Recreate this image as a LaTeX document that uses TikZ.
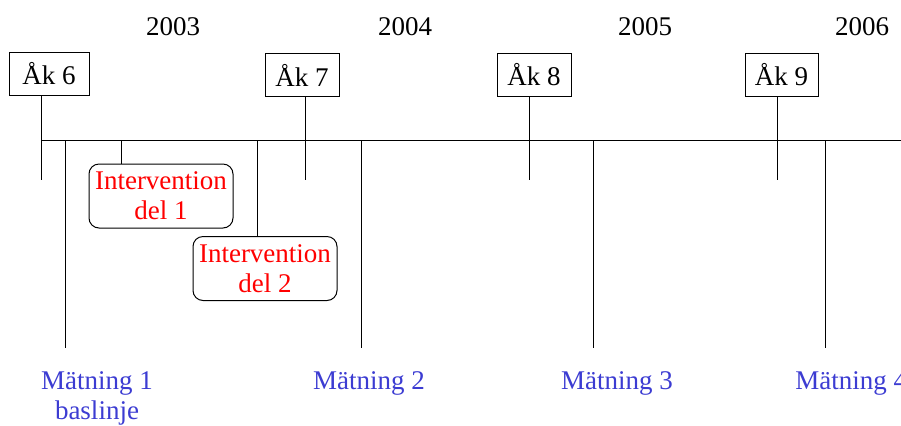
\documentclass[tikz,border=0pt]{standalone}
\usepackage{fontspec}
\setmainfont{Liberation Serif}
\definecolor{mblue}{RGB}{60,60,210}
\begin{document}
\begin{tikzpicture}[x=0.5pt,y=-0.5pt,
  every node/.style={font=\fontsize{13.5}{15}\selectfont},
  akbox/.style={draw,line width=0.5pt,inner sep=0pt,minimum height=21.5pt},
  intbox/.style={draw,line width=0.5pt,rounded corners=5pt,inner sep=0pt,minimum width=72pt,minimum height=32pt,text=red,align=center},
  mlabel/.style={text=mblue,align=center,inner sep=0pt},
  ln/.style={line width=0.5pt}]
\useasboundingbox (0,0) rectangle (901,425);
% years
\node (y3) at (173,27) {2003};
\node (y4) at (405,27) {2004};
\node (y5) at (645,27) {2005};
\node (y6) at (862,27) {2006};
% timeline
\coordinate (t0) at (41,140);
\coordinate (t1) at (901,140);
\draw[ln] (t0) -- (t1);
% Ak boxes
\node[akbox,minimum width=40pt] (a6) at (49,74) {Åk 6};
\node[akbox,minimum width=37pt] (a7) at (302,75) {Åk 7};
\node[akbox,minimum width=37pt] (a8) at (534,75) {Åk 8};
\node[akbox,minimum width=36.5pt] (a9) at (781.5,74.5) {Åk 9};
\coordinate (e6) at (41,180);
\coordinate (e7) at (305,180);
\coordinate (e8) at (529,180);
\coordinate (e9) at (777,180);
\draw[ln] (e6 |- a6.south) -- (e6);
\draw[ln] (e7 |- a7.south) -- (e7);
\draw[ln] (e8 |- a8.south) -- (e8);
\draw[ln] (e9 |- a9.south) -- (e9);
% interventions
\node[intbox] (i1) at (161,196) {Intervention\\del 1};
\node[intbox] (i2) at (265,268.5) {Intervention\\del 2};
\coordinate (c1) at (121,140);
\coordinate (c2) at (257,140);
\draw[ln] (c1) -- (c1 |- i1.north);
\draw[ln] (c2) -- (c2 |- i2.north);
% measurements
\coordinate (m1) at (65,140);
\coordinate (m2) at (361,140);
\coordinate (m3) at (593,140);
\coordinate (m4) at (825,140);
\coordinate (b1) at (65,348);
\coordinate (b2) at (361,348);
\coordinate (b3) at (593,348);
\coordinate (b4) at (825,348);
\draw[ln] (m1) -- (b1);
\draw[ln] (m2) -- (b2);
\draw[ln] (m3) -- (b3);
\draw[ln] (m4) -- (b4);
\node[mlabel,anchor=north] (l1) at (97,371) {Mätning 1\\baslinje};
\node[mlabel,anchor=north] (l2) at (369,371) {Mätning 2};
\node[mlabel,anchor=north] (l3) at (617,371) {Mätning 3};
\node[mlabel,anchor=north west] (l4) at (795,371) {Mätning 4};
\end{tikzpicture}
\end{document}
